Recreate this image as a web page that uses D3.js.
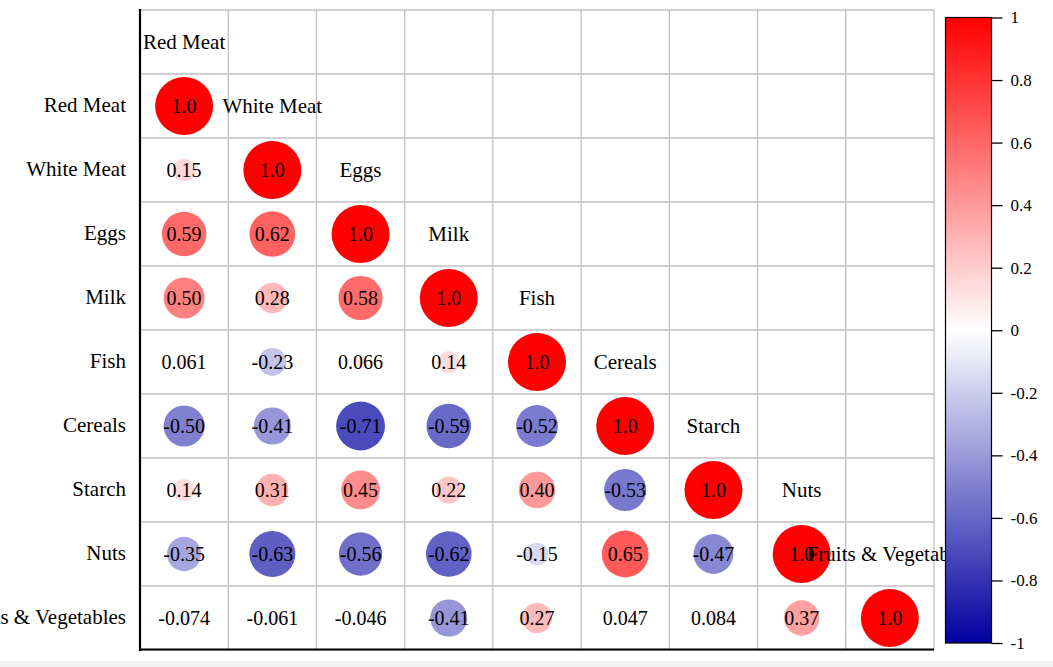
<!DOCTYPE html>
<html>
<head>
<meta charset="utf-8">
<script src="https://cdn.jsdelivr.net/npm/d3@7"></script>
<style>
html,body{margin:0;padding:0;background:#fff;}
svg{display:block;font-family:"Liberation Serif","Times New Roman",serif;}
</style>
</head>
<body>
<svg id="chart" width="1053" height="667"></svg>
<script>
const variables = ["Red Meat","White Meat","Eggs","Milk","Fish","Cereals","Starch","Nuts","Fruits & Vegetables"];
// lower-triangle correlation values (row i has i+1 values, last is the diagonal)
const corrRows = [
  [1.0],
  [0.15, 1.0],
  [0.59, 0.62, 1.0],
  [0.50, 0.28, 0.58, 1.0],
  [0.061, -0.23, 0.066, 0.14, 1.0],
  [-0.50, -0.41, -0.71, -0.59, -0.52, 1.0],
  [0.14, 0.31, 0.45, 0.22, 0.40, -0.53, 1.0],
  [-0.35, -0.63, -0.56, -0.62, -0.15, 0.65, -0.47, 1.0],
  [-0.074, -0.061, -0.046, -0.41, 0.27, 0.047, 0.084, 0.37, 1.0]
];
const colorTicks = [1, 0.8, 0.6, 0.4, 0.2, 0, -0.2, -0.4, -0.6, -0.8, -1];

const svg = d3.select("#chart");
const W = 1053, H = 667;

// screenshot bottom strip
svg.append("rect").attr("x",0).attr("y",661).attr("width",W).attr("height",H-661).attr("fill","#f1f1f1");

const n = variables.length;
const x = d3.scaleBand().domain(d3.range(n)).range([140, 934]);
const y = d3.scaleBand().domain(d3.range(n + 1)).range([10, 650]);
const r = d3.scaleSqrt().domain([0, 1]).range([0, 29]);
const color = d3.scaleLinear().domain([-1, 0, 1]).range(["#0000a0", "#ffffff", "#ff0000"]);
const fmt = v => d3.format(".2r")(v).replace("\u2212", "-");

const defs = svg.append("defs");
defs.append("clipPath").attr("id","plotclip").append("rect").attr("x",0).attr("y",0).attr("width",945).attr("height",H);

// grid
const grid = svg.append("g").attr("stroke","#c0c0c0").attr("stroke-width",1.3);
d3.range(n + 1).forEach(i => {
  const xx = 140 + i * x.bandwidth();
  grid.append("line").attr("x1",xx).attr("x2",xx).attr("y1",10).attr("y2",650);
});
d3.range(n + 2).forEach(i => {
  const yy = 10 + i * y.bandwidth();
  grid.append("line").attr("x1",140).attr("x2",934).attr("y1",yy).attr("y2",yy);
});
// axes lines
svg.append("line").attr("x1",140).attr("x2",140).attr("y1",9).attr("y2",651).attr("stroke","#000").attr("stroke-width",2.2);
svg.append("line").attr("x1",139).attr("x2",934).attr("y1",649.5).attr("y2",649.5).attr("stroke","#000").attr("stroke-width",2.2);

// cells
const cells = [];
corrRows.forEach((row, i) => row.forEach((v, j) => cells.push({row: i, col: j, v})));

const plot = svg.append("g").attr("clip-path","url(#plotclip)");
const cg = plot.selectAll("g.cell").data(cells).enter().append("g").attr("class","cell")
  .attr("transform", d => `translate(${x(d.col) + x.bandwidth()/2},${y(d.row + 1) + y.bandwidth()/2})`);
cg.append("circle").attr("r", d => r(Math.abs(d.v))).attr("fill", d => color(d.v));
cg.append("text").attr("text-anchor","middle").attr("dy","0.35em").attr("font-size",20).attr("fill","#000")
  .text(d => fmt(d.v));

// diagonal labels
plot.selectAll("text.diag").data(variables).enter().append("text").attr("class","diag")
  .attr("x", (d, i) => x(i) + x.bandwidth()/2)
  .attr("y", (d, i) => y(i) + y.bandwidth()/2)
  .attr("dy","0.35em").attr("text-anchor","middle").attr("font-size",21).attr("fill","#000")
  .text(d => d);

// row labels
svg.selectAll("text.rowlab").data(variables).enter().append("text").attr("class","rowlab")
  .attr("x", 126)
  .attr("y", (d, i) => y(i + 1) + y.bandwidth()/2)
  .attr("dy","0.3em").attr("text-anchor","end").attr("font-size",21).attr("fill","#000")
  .text(d => d);

// colorbar
const cb = d3.scaleLinear().domain([-1, 1]).range([643, 17.5]);
const grad = defs.append("linearGradient").attr("id","cbgrad").attr("x1",0).attr("x2",0).attr("y1",1).attr("y2",0);
[-1, -0.5, 0, 0.5, 1].forEach(v => grad.append("stop").attr("offset", (v + 1) / 2).attr("stop-color", color(v)));
svg.append("rect").attr("x",945.5).attr("y",17.5).attr("width",46).attr("height",625.5)
  .attr("fill","url(#cbgrad)").attr("stroke","#000").attr("stroke-width",1.2);
const axis = d3.axisRight(cb).tickValues(colorTicks).tickSize(11).tickPadding(8)
  .tickFormat(v => d3.format("")(v).replace("\u2212","-"));
const ag = svg.append("g").attr("transform","translate(991.5,0)").call(axis);
ag.select(".domain").remove();
ag.selectAll("line").attr("stroke","#000").attr("stroke-width",1.3);
ag.selectAll("text").attr("font-size",17).attr("font-family","'Liberation Serif',serif").attr("fill","#000");
</script>
</body>
</html>
